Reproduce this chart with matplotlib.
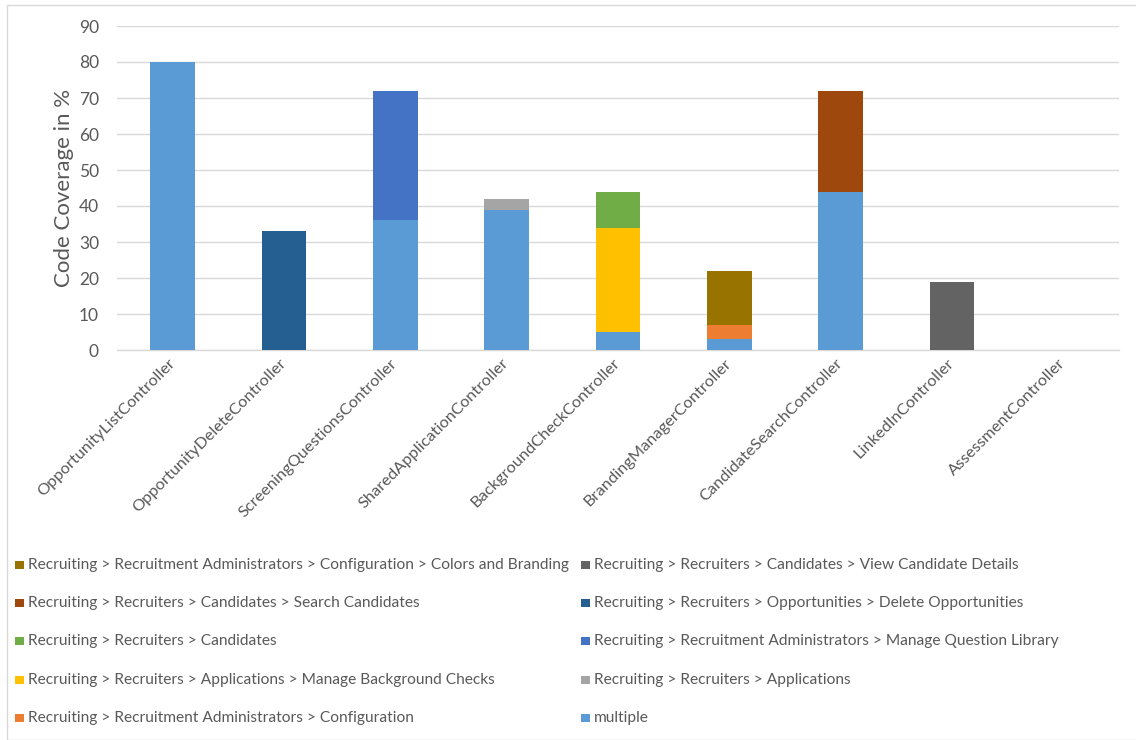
import matplotlib
matplotlib.use("Agg")
import matplotlib.pyplot as plt
from matplotlib.patches import Rectangle
import numpy as np

plt.rcParams['font.family'] = ['Lato', 'DejaVu Sans']

# Controllers on the x axis
controllers = [
    "OpportunityListController", "OpportunityDeleteController",
    "ScreeningQuestionsController", "SharedApplicationController",
    "BackgroundCheckController", "BrandingManagerController",
    "CandidateSearchController", "LinkedInController", "AssessmentController",
]

# Coverage (%) per feature area, one value per controller, stacked bottom-up
multiple           = [80, 0, 36, 39, 5, 3, 44, 0, 0]
applications       = [0, 0, 0, 3, 0, 0, 0, 0, 0]
question_library   = [0, 0, 36, 0, 0, 0, 0, 0, 0]
delete_opps        = [0, 33, 0, 0, 0, 0, 0, 0, 0]
view_candidate     = [0, 0, 0, 0, 0, 0, 0, 19, 0]
configuration      = [0, 0, 0, 0, 0, 4, 0, 0, 0]
background_checks  = [0, 0, 0, 0, 29, 0, 0, 0, 0]
candidates         = [0, 0, 0, 0, 10, 0, 0, 0, 0]
search_candidates  = [0, 0, 0, 0, 0, 0, 28, 0, 0]
colors_branding    = [0, 0, 0, 0, 0, 15, 0, 0, 0]

series = [
    ("multiple", multiple, "#5B9BD5"),
    ("Recruiting > Recruiters > Applications", applications, "#A5A5A5"),
    ("Recruiting > Recruitment Administrators > Manage Question Library", question_library, "#4472C4"),
    ("Recruiting > Recruiters > Opportunities > Delete Opportunities", delete_opps, "#255E91"),
    ("Recruiting > Recruiters > Candidates > View Candidate Details", view_candidate, "#636363"),
    ("Recruiting > Recruitment Administrators > Configuration", configuration, "#ED7D31"),
    ("Recruiting > Recruiters > Applications > Manage Background Checks", background_checks, "#FFC000"),
    ("Recruiting > Recruiters > Candidates", candidates, "#70AD47"),
    ("Recruiting > Recruiters > Candidates > Search Candidates", search_candidates, "#9E480E"),
    ("Recruiting > Recruitment Administrators > Configuration > Colors and Branding", colors_branding, "#997300"),
]

W, H = 1136, 740
fig = plt.figure(figsize=(W / 100, H / 100), dpi=100)
fig.patch.set_facecolor("white")

# chart-area border
fig.patches.append(Rectangle((7 / W, 0), 1.2, 1 - 5 / H, transform=fig.transFigure,
                             fill=False, edgecolor="#D9D9D9", linewidth=1.0))

ax = fig.add_axes([117 / W, 1 - 350 / H, 1002 / W, 324 / H])
x = np.arange(len(controllers))
bottom = np.zeros(len(controllers))
for name, vals, color in series:
    vals = np.asarray(vals, dtype=float)
    ax.bar(x, vals, width=0.4, bottom=bottom, color=color, linewidth=0, zorder=3)
    bottom += vals

text_color = "#595959"
ax.set_xlim(-0.5, len(controllers) - 0.5)
ax.set_ylim(0, 90)
ax.set_yticks(np.arange(0, 91, 10))
ax.yaxis.grid(True, color="#D9D9D9", linewidth=1.0, zorder=0)
ax.set_axisbelow(True)
for s in ["top", "right", "left"]:
    ax.spines[s].set_visible(False)
ax.spines["bottom"].set_color("#D9D9D9")
ax.spines["bottom"].set_linewidth(1.0)
ax.tick_params(axis="y", length=0, pad=13, labelsize=12.5, labelcolor=text_color)
ax.tick_params(axis="x", length=0, pad=8, labelsize=11.8, labelcolor=text_color)
ax.set_xticks(x)
ax.set_xticklabels(controllers, rotation=45, ha="right", va="center",
                   rotation_mode="anchor")

fig.text(64 / W, 1 - 188 / H, "Code Coverage in %", rotation=90, ha="center",
         va="center", fontsize=16, color=text_color)

# legend laid out in two columns, last series first
legend_items = list(reversed(series))
row_y = [565, 603, 641, 680, 718]
col_x = [15, 581]
sq = 8.7
for i, (name, vals, color) in enumerate(legend_items):
    col = i // 5
    row = i % 5
    cx = col_x[col]
    cy = row_y[row]
    fig.patches.append(Rectangle((cx / W, 1 - (cy + sq / 2) / H), sq / W, sq / H,
                                 transform=fig.transFigure, facecolor=color,
                                 edgecolor="none"))
    fig.text((cx + 13) / W, 1 - cy / H, name, ha="left", va="center",
             fontsize=11.2, color=text_color)

fig.savefig("out.png", dpi=100, facecolor="white")
